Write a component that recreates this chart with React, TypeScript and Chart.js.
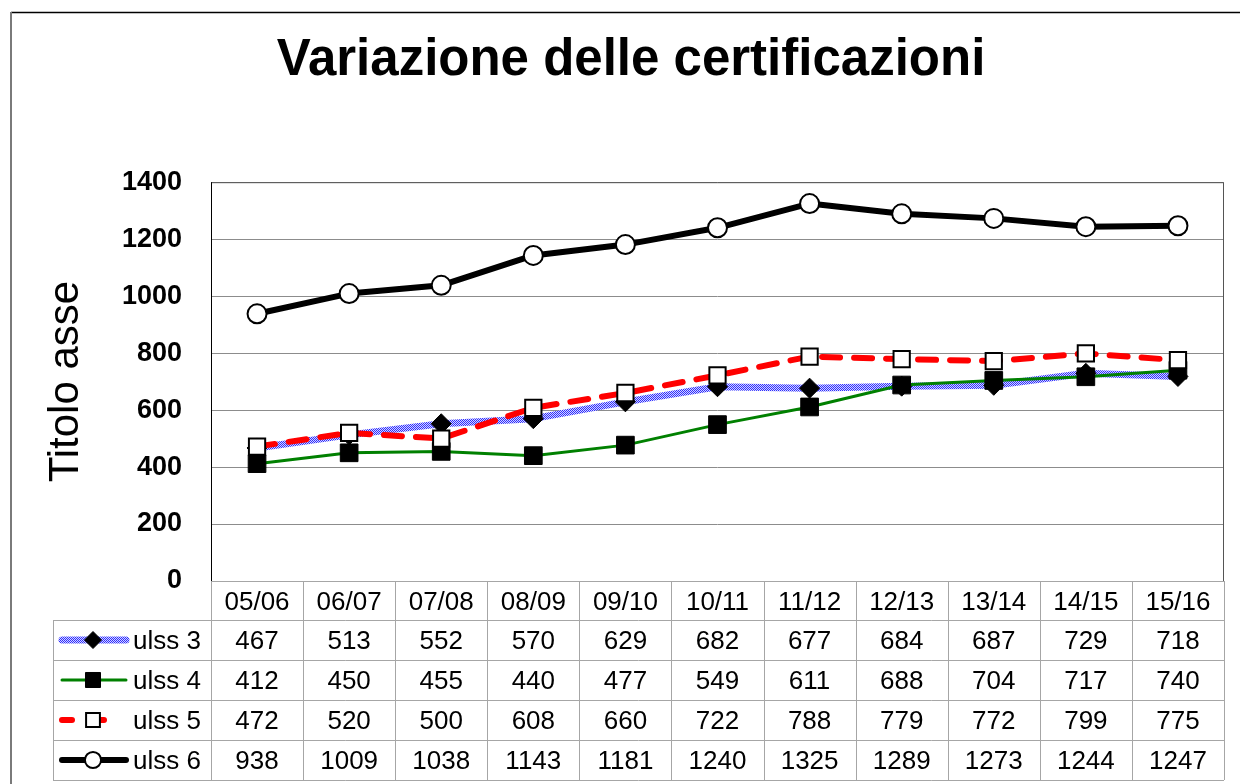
import React, { useEffect, useRef } from "react";
import { Chart, registerables } from "chart.js";

Chart.register(...registerables);

const TITLE = "Variazione delle certificazioni";
const Y_TITLE = "Titolo asse";
const CATEGORIES = ["05/06", "06/07", "07/08", "08/09", "09/10", "10/11", "11/12", "12/13", "13/14", "14/15", "15/16"];
const SERIES_NAMES = ["ulss 3", "ulss 4", "ulss 5", "ulss 6"];
const ULSS3 = [467, 513, 552, 570, 629, 682, 677, 684, 687, 729, 718];
const ULSS4 = [412, 450, 455, 440, 477, 549, 611, 688, 704, 717, 740];
const ULSS5 = [472, 520, 500, 608, 660, 722, 788, 779, 772, 799, 775];
const ULSS6 = [938, 1009, 1038, 1143, 1181, 1240, 1325, 1289, 1273, 1244, 1247];
const Y_MIN = 0;
const Y_MAX = 1400;
const Y_STEP = 200;

const FONT = "'Liberation Sans', Arial, sans-serif";

function makePattern(ctx: CanvasRenderingContext2D): CanvasPattern | string {
  const c = document.createElement("canvas");
  c.width = 2;
  c.height = 2;
  const p = c.getContext("2d");
  if (!p) return "#7f7fff";
  p.fillStyle = "#d4d4ff";
  p.fillRect(0, 0, 2, 2);
  p.fillStyle = "#2f2fff";
  p.fillRect(0, 0, 1, 1);
  p.fillRect(1, 1, 1, 1);
  return ctx.createPattern(c, "repeat") || "#7f7fff";
}

type Style = {
  line: any;
  width: number;
  dash: number[];
  point: string;
  radius: number;
  fill: string;
  stroke: string;
  pbw: number;
};

function drawMarker(ctx: CanvasRenderingContext2D, s: Style, x: number, y: number) {
  ctx.save();
  ctx.setLineDash([]);
  ctx.beginPath();
  const r = s.radius;
  if (s.point === "circle") {
    ctx.arc(x, y, r, 0, Math.PI * 2);
  } else if (s.point === "rectRot") {
    ctx.moveTo(x - r, y);
    ctx.lineTo(x, y - r);
    ctx.lineTo(x + r, y);
    ctx.lineTo(x, y + r);
    ctx.closePath();
  } else {
    const h = Math.SQRT1_2 * r;
    ctx.rect(x - h, y - h, 2 * h, 2 * h);
  }
  ctx.fillStyle = s.fill;
  ctx.fill();
  ctx.lineWidth = s.pbw;
  ctx.strokeStyle = s.stroke;
  ctx.stroke();
  ctx.restore();
}

export default function App() {
  const ref = useRef<HTMLCanvasElement | null>(null);

  useEffect(() => {
    const canvas = ref.current;
    if (!canvas) return;
    const ctx = canvas.getContext("2d");
    if (!ctx) return;
    const pattern = makePattern(ctx);

    const styles: Style[] = [
      { line: pattern, width: 7, dash: [], point: "rectRot", radius: 10, fill: "#000", stroke: "#000", pbw: 1 },
      { line: "#008000", width: 3, dash: [], point: "rect", radius: 12.5, fill: "#000", stroke: "#000", pbw: 1 },
      { line: "#ff0000", width: 6, dash: [18, 14], point: "rect", radius: 11.5, fill: "#fff", stroke: "#000", pbw: 2 },
      { line: "#000000", width: 6, dash: [], point: "circle", radius: 9.5, fill: "#fff", stroke: "#000", pbw: 2 },
    ];
    const values = [ULSS3, ULSS4, ULSS5, ULSS6];

    const tablePlugin = {
      id: "tableAndFrame",
      beforeDraw(chart: any) {
        const c = chart.ctx;
        c.save();
        c.fillStyle = "#fff";
        c.fillRect(0, 0, chart.width, chart.height);
        c.strokeStyle = "#000";
        c.lineWidth = 1.5;
        c.beginPath();
        c.moveTo(11, 12.5);
        c.lineTo(chart.width, 12.5);
        c.stroke();
        c.strokeStyle = "#7a7a7a";
        c.lineWidth = 2;
        c.beginPath();
        c.moveTo(11, 12);
        c.lineTo(11, chart.height);
        c.stroke();
        c.restore();
      },
      beforeDatasetsDraw(chart: any) {
        const c = chart.ctx;
        const a = chart.chartArea;
        c.save();
        c.strokeStyle = "#555";
        c.lineWidth = 1;
        c.beginPath();
        c.moveTo(a.left + 0.5, a.top + 0.5);
        c.lineTo(a.right - 0.5, a.top + 0.5);
        c.lineTo(a.right - 0.5, a.bottom);
        c.stroke();
        c.strokeStyle = "#000";
        c.beginPath();
        c.moveTo(a.left + 0.5, a.top);
        c.lineTo(a.left + 0.5, a.bottom);
        c.stroke();
        c.restore();
      },
      afterDraw(chart: any) {
        const c = chart.ctx;
        const a = chart.chartArea;
        const xs = chart.scales.x;
        const n = CATEGORIES.length;
        const colW = (a.right - a.left) / n;
        const headerH = 39;
        const rowH = 40;
        const labelLeft = 53;
        const top = a.bottom;
        const tableBottom = top + headerH + rowH * SERIES_NAMES.length;
        c.save();
        c.strokeStyle = "#a6a6a6";
        c.lineWidth = 1;
        c.beginPath();
        for (let i = 0; i <= n; i++) {
          const x = Math.round(a.left + i * colW) + 0.5;
          c.moveTo(x, top);
          c.lineTo(x, tableBottom);
        }
        c.moveTo(labelLeft + 0.5, top + headerH);
        c.lineTo(labelLeft + 0.5, tableBottom);
        for (let r = 0; r <= SERIES_NAMES.length; r++) {
          const y = Math.round(top + headerH + r * rowH) + 0.5;
          c.moveTo(labelLeft, y);
          c.lineTo(a.right, y);
        }
        c.moveTo(a.left, top + 0.5);
        c.lineTo(a.right, top + 0.5);
        c.stroke();

        c.fillStyle = "#000";
        c.font = `26px ${FONT}`;
        c.textAlign = "center";
        c.textBaseline = "middle";
        CATEGORIES.forEach((lab, i) => {
          c.fillText(lab, xs.getPixelForValue(i), top + headerH / 2 + 2);
        });
        SERIES_NAMES.forEach((name, r) => {
          const cy = top + headerH + r * rowH + rowH / 2;
          values[r].forEach((v, i) => {
            c.fillText(String(v), xs.getPixelForValue(i), cy + 2);
          });
          const s = styles[r];
          c.save();
          c.strokeStyle = s.line;
          c.lineWidth = s.width;
          c.lineCap = "round";
          c.setLineDash(s.dash.length ? [10, 22] : []);
          c.beginPath();
          c.moveTo(62, cy);
          c.lineTo(126, cy);
          c.stroke();
          c.restore();
          drawMarker(c, { ...s, radius: s.radius * 0.85 }, 93, cy);
          c.textAlign = "left";
          c.fillText(name, 133, cy + 2);
          c.textAlign = "center";
        });
        c.restore();
      },
    };

    const datasets = SERIES_NAMES.map((name, i) => {
      const s = styles[i];
      return {
        label: name,
        data: values[i],
        borderColor: s.line,
        borderWidth: s.width,
        borderDash: s.dash,
        borderCapStyle: s.dash.length ? "round" : "butt",
        borderJoinStyle: "round",
        pointStyle: s.point,
        pointRadius: s.radius,
        pointBackgroundColor: s.fill,
        pointBorderColor: s.stroke,
        pointBorderWidth: s.pbw,
        tension: 0,
        fill: false,
        order: 4 - i,
      };
    });

    const chart = new Chart(ctx, {
      type: "line",
      data: { labels: CATEGORIES, datasets: datasets as any },
      options: {
        animation: false,
        responsive: false,
        devicePixelRatio: 1,
        layout: { padding: { left: 38, right: 16, top: 0, bottom: 203 } },
        plugins: {
          legend: { display: false },
          tooltip: { enabled: false },
          title: {
            display: true,
            text: TITLE,
            color: "#000",
            font: { family: FONT, size: 51, weight: "bold", lineHeight: 1.2 },
            padding: { top: 30, bottom: 91 },
          },
        },
        scales: {
          x: {
            display: false,
            offset: true,
            grid: { display: false },
          },
          y: {
            min: Y_MIN,
            max: Y_MAX,
            afterFit: (scale: any) => {
              scale.width = 173;
            },
            ticks: {
              stepSize: Y_STEP,
              color: "#000",
              padding: 29,
              font: { family: FONT, size: 27, weight: "bold" },
              callback: (v: any) => String(v),
            },
            grid: { color: "#8c8c8c", lineWidth: 1, drawTicks: false },
            border: { display: false },
            title: {
              display: true,
              text: Y_TITLE,
              color: "#000",
              font: { family: FONT, size: 42, weight: "normal", lineHeight: 1.2 },
              padding: { top: 3, bottom: 0 },
            },
          },
        },
      },
      plugins: [tablePlugin as any],
    });

    return () => chart.destroy();
  }, []);

  return (
    <div style={{ position: "absolute", left: 0, top: 0, width: 1240, height: 784, background: "#fff" }}>
      <canvas ref={ref} width={1240} height={784} style={{ display: "block" }} />
    </div>
  );
}
